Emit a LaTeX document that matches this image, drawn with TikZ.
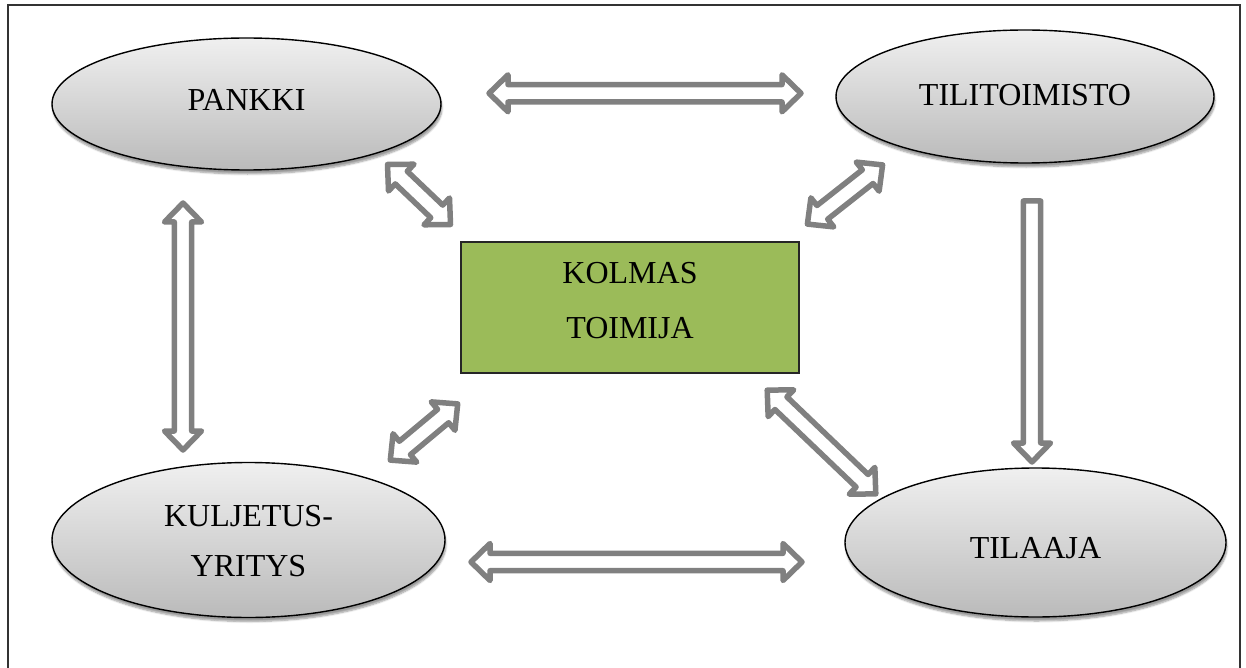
\documentclass[tikz,border=0pt]{standalone}
\usepackage{fontspec}
\setmainfont{Liberation Serif}
\usetikzlibrary{calc,shapes.geometric,shadows.blur}
\definecolor{arrowgray}{HTML}{808080}
\definecolor{boxgreen}{HTML}{9BBB59}
\newcommand\ahl{19pt}
\newcommand\ahw{18.5pt}
\newcommand\asw{8.7pt}
\newcommand\dblarrow[2]{%
  \coordinate (dA) at ($(#1)!\ahl!(#2)$);
  \coordinate (dB) at ($(#2)!\ahl!(#1)$);
  \draw[blockarrow] (#1) -- ($(dA)!\ahw!90:(#2)$) -- ($(dA)!\asw!90:(#2)$)
    -- ($(dB)!\asw!-90:(#1)$) -- ($(dB)!\ahw!-90:(#1)$) -- (#2)
    -- ($(dB)!\ahw!90:(#1)$) -- ($(dB)!\asw!90:(#1)$)
    -- ($(dA)!\asw!-90:(#2)$) -- ($(dA)!\ahw!-90:(#2)$) -- cycle;}
\newcommand\sglarrow[2]{%
  \coordinate (dB) at ($(#2)!\ahl!(#1)$);
  \draw[blockarrow] ($(#1)!\asw!90:(#2)$) -- ($(dB)!\asw!-90:(#1)$)
    -- ($(dB)!\ahw!-90:(#1)$) -- (#2) -- ($(dB)!\ahw!90:(#1)$)
    -- ($(dB)!\asw!90:(#1)$) -- ($(#1)!\asw!-90:(#2)$) -- cycle;}
\tikzset{
  blockarrow/.style={draw=arrowgray, line width=5.5pt, line join=round, fill=white},
  oval/.style={ellipse, draw=black, line width=1.4pt, inner sep=0pt,
    top color=white!94!black, bottom color=white!73!black,
    blur shadow={shadow xshift=1pt, shadow yshift=-4pt, shadow blur steps=6, shadow opacity=40}},
  boxtext/.style={font=\fontsize{32}{50}\selectfont, align=center},
  greenbox/.style={rectangle, draw=black!85, line width=1.3pt, fill=boxgreen, inner sep=0pt},
  frameline/.style={draw=black!80, line width=1.3pt}
}
\begin{document}
\begin{tikzpicture}[x=1pt,y=-1pt]
\useasboundingbox (0,0) rectangle (1246,668);
\draw[frameline] (8,700) -- (8,5) -- (1240,5) -- (1240,700);

\node[oval, minimum width=389, minimum height=132,
  label={[boxtext, yshift=4pt]center:PANKKI}] (pankki) at (246.5,104) {};
\node[oval, minimum width=378, minimum height=133,
  label={[boxtext, yshift=1pt]center:TILITOIMISTO}] (tili) at (1025,96.5) {};
\node[oval, minimum width=393, minimum height=155,
  label={[boxtext, yshift=-1pt]center:KULJETUS-\\YRITYS}] (kulj) at (248.5,540) {};
\node[oval, minimum width=381, minimum height=149,
  label={[boxtext, yshift=-6pt]center:TILAAJA}] (tilaaja) at (1035.5,542.5) {};
\node[greenbox, minimum width=338, minimum height=131,
  label={[boxtext, font=\fontsize{32}{55}\selectfont, yshift=7pt]center:KOLMAS\\TOIMIJA}]
  (kolmas) at (630,307.5) {};

% arrow end coordinates
\coordinate (a1s) at (489,93.3);   \coordinate (a1e) at (801,93.3);
\coordinate (a2s) at (471,562);    \coordinate (a2e) at (802,562);
\coordinate (a3s) at (183,203);    \coordinate (a3e) at (183,450);
\coordinate (a4s) at (1032,201);   \coordinate (a4e) at (1032,462);
\coordinate (a5s) at (387.5,164.5); \coordinate (a5e) at (450.5,224.5);
\coordinate (a6s) at (882.6,164.9); \coordinate (a6e) at (807.4,224.1);
\coordinate (a7s) at (457.7,403.9); \coordinate (a7e) at (390.3,460.1);
\coordinate (a8s) at (767.2,390.1); \coordinate (a8e) at (875.8,493.9);

\dblarrow{a1s}{a1e}
\dblarrow{a2s}{a2e}
\dblarrow{a3s}{a3e}
\sglarrow{a4s}{a4e}
\dblarrow{a5s}{a5e}
\dblarrow{a6s}{a6e}
\dblarrow{a7s}{a7e}
\dblarrow{a8s}{a8e}
\end{tikzpicture}
\end{document}
